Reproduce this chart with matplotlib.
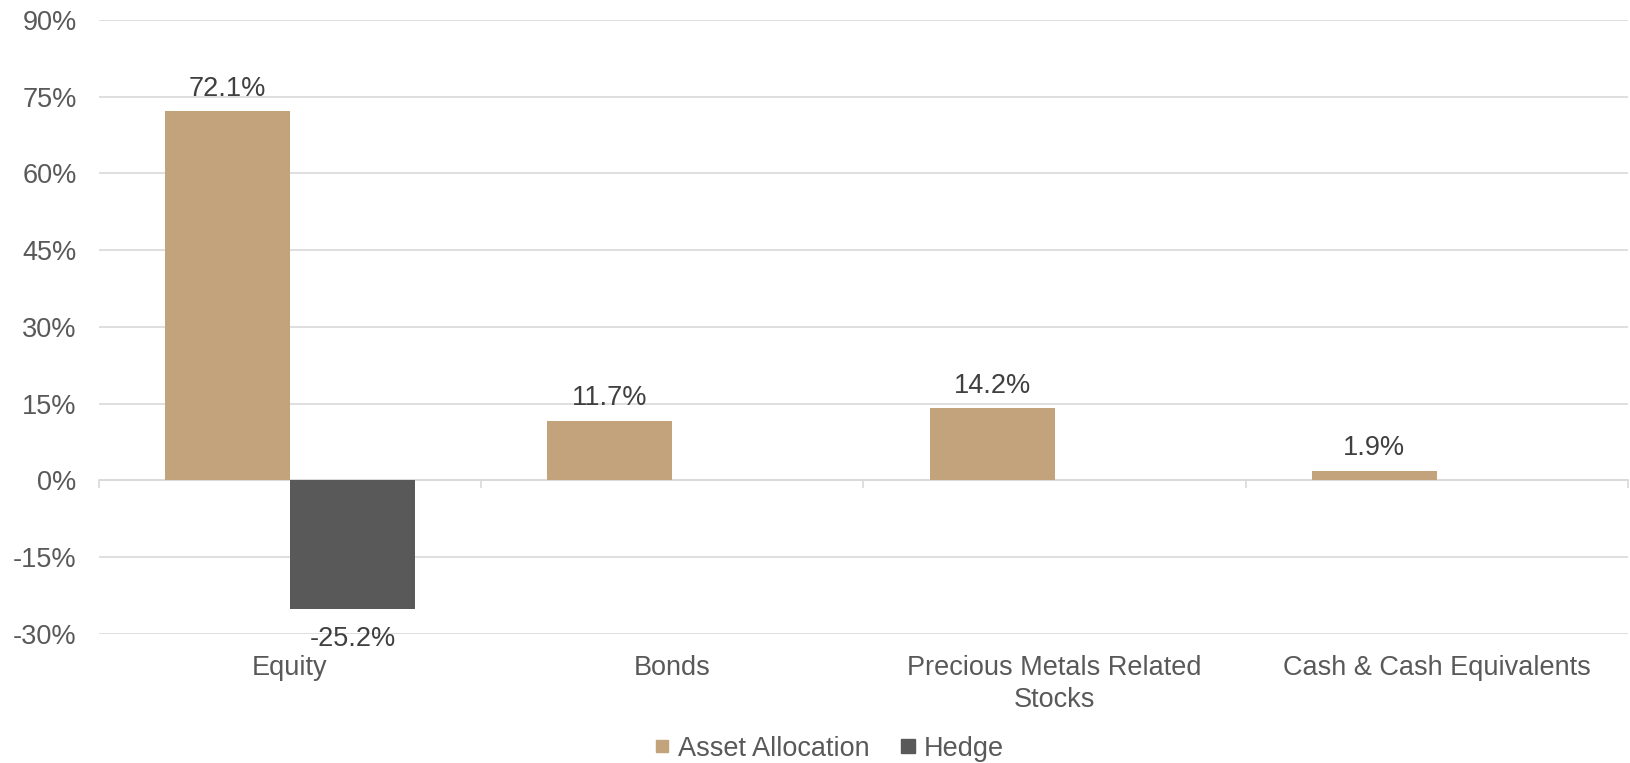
import matplotlib
matplotlib.use("Agg")
import matplotlib.pyplot as plt
from matplotlib.lines import Line2D
import numpy as np

plt.rcParams['font.family'] = ['Liberation Sans', 'DejaVu Sans']

categories = ["Equity", "Bonds", "Precious Metals Related\nStocks", "Cash & Cash Equivalents"]
asset_alloc = [72.1, 11.7, 14.2, 1.9]
hedge = [-25.2, 0, 0, 0]
yticks = [-30, -15, 0, 15, 30, 45, 60, 75, 90]

tan = "#C3A37C"
dark = "#595959"
grid = "#D9D9D9"
txt = "#595959"
lbl = "#404040"
fs = 19.5

fig = plt.figure(figsize=(16.30, 7.63), dpi=100)
ax = fig.add_axes([0.0607, 0.169, 0.938, 0.805])

x = np.arange(len(categories)) + 0.5
w = 0.327
ax.bar(x - w / 2, asset_alloc, width=w, color=tan, zorder=3)
ax.bar(x + w / 2, hedge, width=w, color=dark, zorder=3)

for xi, v in zip(x - w / 2, asset_alloc):
    ax.annotate(f"{v:.1f}%", (xi, v), xytext=(0, 11), textcoords="offset points",
                ha="center", va="baseline", fontsize=fs, color=lbl)
for xi, v in zip(x + w / 2, hedge):
    if v != 0:
        ax.annotate(f"{v:.1f}%", (xi, v), xytext=(0, -12), textcoords="offset points",
                    ha="center", va="top", fontsize=fs, color=lbl)

ax.set_xlim(0, 4)
ax.set_ylim(-30, 90)
ax.set_yticks(yticks)
ax.set_yticklabels([f"{t}%" for t in yticks])
ax.yaxis.grid(True, color=grid, linewidth=1.2, zorder=0)
ax.set_axisbelow(True)
ax.tick_params(axis="y", length=0, labelsize=fs, labelcolor=txt, pad=16)
ax.set_xticks(x)
ax.set_xticklabels(categories, linespacing=1.3)
ax.tick_params(axis="x", length=0, labelsize=fs, labelcolor=txt, pad=15)
for s in ax.spines.values():
    s.set_visible(False)

# zero line with category separator ticks (0% sits at 30/120 of the axis height)
sec = ax.secondary_xaxis(0.25)
sec.set_xticks(np.arange(len(categories) + 1))
sec.set_xticklabels([])
sec.tick_params(axis="x", direction="out", length=6, color=grid, width=1.2)
sec.spines["bottom"].set_color(grid)
sec.spines["bottom"].set_linewidth(1.2)
sec.spines["top"].set_visible(False)

handles = [Line2D([], [], marker="s", linestyle="", markersize=8, color=tan),
           Line2D([], [], marker="s", linestyle="", markersize=10, color=dark)]
fig.legend(handles, ["Asset Allocation", "Hedge"], loc="lower center",
           bbox_to_anchor=(0.507, -0.03), ncol=2, frameon=False, fontsize=fs,
           labelcolor=txt, handletextpad=0.1, columnspacing=0.9, handlelength=1.0)

fig.savefig("out.png", dpi=100, facecolor="white")
